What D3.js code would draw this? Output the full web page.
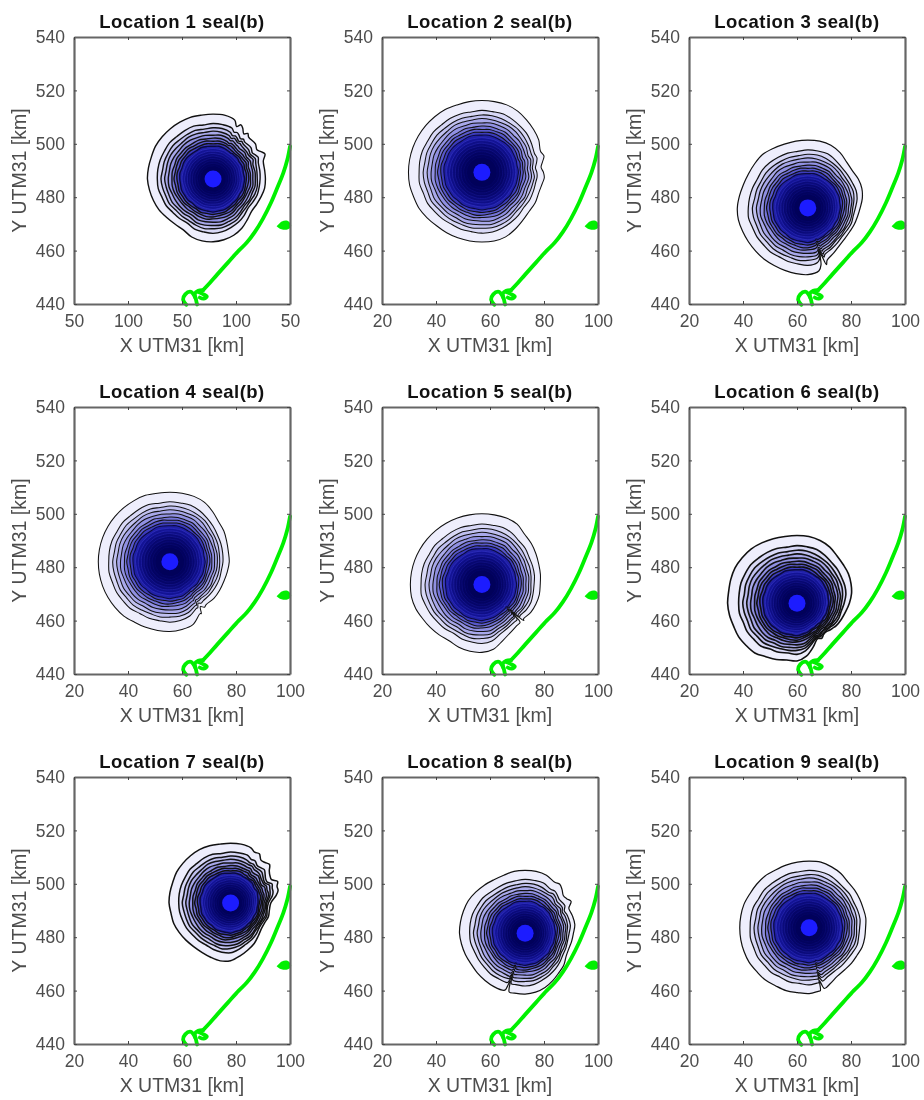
<!DOCTYPE html>
<html>
<head>
<meta charset="utf-8">
<script src="https://cdn.jsdelivr.net/npm/d3@7"></script>
<style>
  html, body { margin: 0; padding: 0; background: #fff; }
  svg { display: block; filter: blur(0.45px); }
  text { font-family: "Liberation Sans", Arial, sans-serif; }
</style>
</head>
<body>
<svg width="924" height="1100"></svg>
<script>
// Tick labels
var xTicks = [20, 40, 60, 80, 100];
var yTicks = [440, 460, 480, 500, 520, 540];
var xLabels = ["20", "40", "60", "80", "100"];
var xLabelsFirst = ["50", "100", "50", "100", "50"]; // panel 1 really reads like this

// Centre of each plume (km), dot at the middle
var centerX = [71.5, 57, 64, 55.5, 57, 60, 78, 73, 64.5];
var centerY = [486.8, 489.3, 476, 482, 473.5, 466.5, 492.8, 481.5, 483.5];

// Outer contour: radius in km at every 10 degrees, clockwise from north
var outer1 = [24.3,24.3,23.5,22,20.5,20.5,20.5,19.8,19.4,19.4,19.4,19,18.7,18.7,19.8,21.3,22.4,23.1,23.5,23.5,23.1,22,22,22.4,23.1,23.5,23.9,24.3,24.3,24.3,24.6,24.6,24.6,24.6,24.6,24.3];
var outer2 = [26.9,26.9,26.9,26.5,25.7,25,24.3,23.1,22.8,22.8,22.8,22.4,22.8,22.8,23.5,24.6,25.7,26.1,26.1,26.1,26.1,26.1,26.1,26.5,26.9,26.9,27.2,27.2,27.2,27.2,27.2,27.2,27.2,27.2,26.9,26.9];
var outer3 = [25.4,25.4,25,23.9,22.4,21.6,21.6,21.3,20.5,19.4,18.7,18.3,17.9,17.9,18.3,19.4,20.9,23.9,25,25,24.9,24.9,25.1,25.2,25.4,25.7,26.1,26.1,25.7,25.4,25.4,25.7,26.1,25.7,25.4,25.4];
var outer4 = [26.1,26.1,26.1,25.7,24.6,23.5,23.1,22.4,22,22,21.6,21.3,21.3,21.3,20.9,22.4,25,25.7,26.1,26.1,26.1,26.1,26.5,26.5,26.5,26.5,26.5,26.5,26.5,26.5,26.5,26.5,26.5,26.5,26.5,26.1];
var outer5 = [26.5,26.5,26.5,26.1,24.6,23.9,23.1,22.4,22,21.6,21.6,21.3,20.9,20.1,20.1,20.9,22.4,24.6,25.4,25.4,25,24.3,24.6,25,25.4,26.1,26.5,26.5,26.5,26.5,26.5,26.5,26.5,26.5,26.5,26.5];
var outer6 = [25.4,25.4,25,24.3,23.1,22.4,22,21.3,20.5,19.4,18.3,17.5,16.8,15.7,15.3,15.3,17.5,20.1,21.6,21.6,22.4,23.1,24.3,24.6,25,25,25.4,25.7,25.7,26.1,26.5,26.5,26.5,26.1,25.7,25.4];
var outer7 = [22.4,22.4,22,21.3,19.8,18.7,17.5,18.3,17.2,14.9,14.6,14.9,14.6,14.9,16,17.5,18.7,20.1,21.6,22,21.6,21.3,21.3,21.6,22,22.4,22.4,22.8,22.8,22.8,23.1,23.1,23.1,23.1,22.8,22.4];
var outer8 = [23.5,23.5,23.1,22,21.3,20.1,18.7,18.7,18.7,17.9,17.5,17.2,17.5,18.7,19.4,20.5,21.6,22.4,22.8,22.8,22.8,23.1,23.1,23.1,23.1,23.5,23.9,24.3,24.3,24.3,24.3,23.9,23.5,23.1,23.1,23.5];
var outer9 = [25,25,24.3,23.5,22.4,22,21.6,21.3,21.3,20.9,20.9,20.9,20.5,20.5,20.5,20.9,22.4,23.9,24.6,24.6,25,25,25.4,25.4,25.7,25.7,25.7,25.7,25.7,25.7,25.4,25.4,25.4,25,25,25];
var outers = [outer1, outer2, outer3, outer4, outer5, outer6, outer7, outer8, outer9];

// Extra points for the cuts and jagged bits: [degrees, km]
var extra1 = [[24,21.5],[27,22.8],[34,20.4],[37,21.4],[56,19.6],[64,21.4]];
var extra2 = [[75,23.8],[85,22],[95,23.2]];
var extra3 = [[162,22.4],[165,17.5],[167,21.8]];
var extra4 = [[143,21.3],[146,20.2],[149,22.6]];
var extra5 = [[131,20.6],[133,15.3],[135,20]];
var extra6 = [[125,16.2],[135,15.2],[145,16]];
var extra7 = [[25,21],[35,19.6],[45,20.4],[55,17.8],[65,19.2],[75,18.2]];
var extra8 = [[35,22.4],[45,20],[55,20.8],[65,18.6],[195,22.8],[197,18.7],[199,22.4]];
var extra9 = [[166,23.4],[169,20.1],[172,24]];
var extras = [extra1, extra2, extra3, extra4, extra5, extra6, extra7, extra8, extra9];

// Small irregularity of the contour edges, km per 10 degree step
var edgeWiggle = [0.12,-0.08,0.15,-0.1,0.04,0.15,-0.15,0.08,-0.04,0.15,-0.1,-0.04,0.1,-0.15,0.08,0.1,-0.08,-0.15,0.15,0.04,-0.1,0.1,-0.04,-0.15,0.08,0.15,-0.08,0.04,-0.15,0.1,-0.04,0.08,-0.1,0.15,-0.08,0.04];

// Contour levels as a share of the outer contour, with fill and line colour
var levels = [1, 0.87, 0.81, 0.76, 0.71, 0.66, 0.62, 0.58, 0.54, 0.5, 0.46, 0.42, 0.38, 0.34, 0.3, 0.26, 0.22];
var fills = ["#eeeefc","#d8d8f6","#c0c0f0","#a8a8ea","#9090e2","#7474d8","#5858cc","#3c3cbc","#2020a4","#131394","#0e0e86","#0a0a7a","#070770","#050568","#030362","#02025e","#01015a"];
var lines = ["#111","#111","#111","#111","#111","#111","#111","#111","#0a0a40","#3232c4","#2a2ab8","#2222a8","#1a1a98","#14148a","#0f0f80","#0a0a74","#06066a"];
var lineWidths = [1.4, 1.05, 1.2, 1.05, 1.05, 1.6, 1.5, 1.2, 1.2]; // panels 1, 6, 7 look darker

// Coast line (km)
var coastMain = [[100,499],[99,494],[97.5,489],[95.5,484],[93,478],[90,472],[87,467],[84,463],[81,460],[77,455.5],[73,451],[69.5,447],[67.8,445.2]];
var coastHook = [[67.8,445.2],[66,445],[64.8,444],[65.2,441.5],[65.6,439.8]];
var coastBlob = [[66,444.5],[67.4,443.9],[69.2,442.8],[68,442],[66.6,442.4]];
var coastLoop = [[65,442.2],[64,444],[63,444.6],[61.2,443.6],[60.4,441.7],[61.6,439.7]];
var island = [[96,469.2],[97,468.6],[99,468.6],[99.8,469.5],[98.6,470.6],[97,470.2]];

var panelLefts = [74, 382, 689];
var panelTops = [37, 407, 777];
var panelW = 216;
var panelH = 267;
var gray = "#666";

var svg = d3.select("svg");

function drawPanel(i) {
    var left = panelLefts[i % 3];
    var top = panelTops[Math.floor(i / 3)];

    var x = d3.scaleLinear().domain([20, 100]).range([0, panelW]);
    var y = d3.scaleLinear().domain([440, 540]).range([panelH, 0]);
    var g = svg.append("g").attr("transform", "translate(" + left + "," + top + ")");

    // Merge the 10 degree radii with the extra points; keep how far an extra
    // point is from its nearest 10 degree radius so cuts only hit the outer rings
    var outer = outers[i];
    var pts = outer.map(function (r, k) { return { deg: k * 10, r: r, cut: 0, step: k }; })
        .concat(extras[i].map(function (e) {
            var k = Math.round(e[0] / 10) % 36;
            return { deg: e[0], r: outer[k], cut: e[1] - outer[k], step: k };
        }))
        .sort(function (a, b) { return a.deg - b.deg; });
    var mean = d3.mean(outer);

    var ring = d3.line()
        .x(function (d) { return x(d.x); })
        .y(function (d) { return y(d.y); })
        .curve(d3.curveCatmullRomClosed.alpha(0.5));

    levels.forEach(function (f, n) {
        var shape = pts.map(function (p) {
            var a = p.deg * Math.PI / 180;
            // inner contours get rounder, each one with its own wobble
            var wiggle = n === 0 ? 0 : edgeWiggle[(p.step + n * 7) % 36] * (n > 8 ? 0.5 : 1);
            var r = f * (mean + (p.r - mean) * f * f) + wiggle + p.cut * f * f * f * f;
            return { x: centerX[i] + r * Math.sin(a), y: centerY[i] + r * Math.cos(a) };
        });
        g.append("path")
            .attr("d", ring(shape))
            .attr("fill", fills[n])
            .attr("stroke", lines[n])
            .attr("stroke-width", n < 9 ? lineWidths[i] : 0.7);
    });

    // Middle dot
    g.append("circle")
        .attr("cx", x(centerX[i]))
        .attr("cy", y(centerY[i]))
        .attr("r", 8.5)
        .attr("fill", "#1c1cff");

    // Coast
    var coast = d3.line()
        .x(function (d) { return x(d[0]); })
        .y(function (d) { return y(d[1]); })
        .curve(d3.curveCatmullRom);
    [coastMain, coastHook, coastBlob, coastLoop].forEach(function (c) {
        g.append("path").attr("d", coast(c))
            .attr("fill", "none").attr("stroke", "#00f000")
            .attr("stroke-width", 3.8).attr("stroke-linecap", "round");
    });
    g.append("path").attr("d", coast(island) + "Z")
        .attr("fill", "#00f000").attr("stroke", "#00f000").attr("stroke-width", 3.5);

    // Axes on all four sides, ticks pointing in
    var labels = i === 0 ? xLabelsFirst : xLabels;
    var bottom = d3.axisBottom(x).tickValues(xTicks).tickSizeInner(-3).tickSizeOuter(0).tickPadding(11)
        .tickFormat(function (d, k) { return labels[k]; });
    var leftAxis = d3.axisLeft(y).tickValues(yTicks).tickSizeInner(-3).tickSizeOuter(0).tickPadding(9);
    var topAxis = d3.axisTop(x).tickValues(xTicks).tickSizeInner(-3).tickSizeOuter(0).tickFormat("");
    var rightAxis = d3.axisRight(y).tickValues(yTicks).tickSizeInner(-3).tickSizeOuter(0).tickFormat("");

    g.append("g").attr("transform", "translate(0," + panelH + ")").call(bottom);
    g.append("g").call(leftAxis);
    g.append("g").call(topAxis);
    g.append("g").attr("transform", "translate(" + panelW + ",0)").call(rightAxis);

    g.selectAll(".domain").attr("stroke", gray).attr("stroke-width", 2.2);
    g.selectAll(".tick line").attr("stroke", "#444");
    g.selectAll(".tick text").attr("fill", "#4d4d4d").style("font-size", "17.5px")
        .style("font-family", '"Liberation Sans", Arial, sans-serif');

    g.append("text")
        .attr("x", panelW / 2).attr("y", -9.5)
        .attr("text-anchor", "middle")
        .attr("font-size", "18.5px").attr("font-weight", "bold").attr("fill", "#111")
        .style("letter-spacing", "0.45px")
        .text("Location " + (i + 1) + " seal(b)");

    g.append("text")
        .attr("x", panelW / 2).attr("y", panelH + 48)
        .attr("text-anchor", "middle")
        .attr("font-size", "19.5px").attr("fill", "#4d4d4d")
        .text("X UTM31 [km]");

    g.append("text")
        .attr("transform", "translate(-48," + (panelH / 2) + ") rotate(-90)")
        .attr("text-anchor", "middle")
        .attr("font-size", "19.5px").attr("fill", "#4d4d4d")
        .text("Y UTM31 [km]");
}

d3.range(9).forEach(drawPanel);
</script>
</body>
</html>
